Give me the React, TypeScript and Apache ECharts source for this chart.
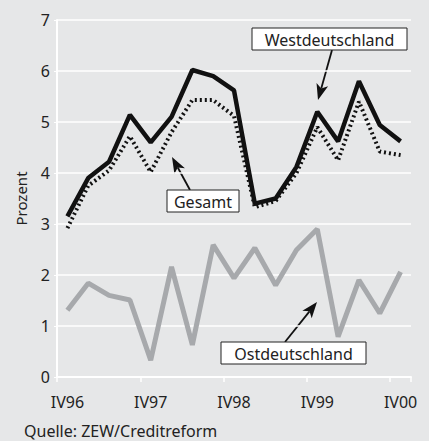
import React, { useEffect, useRef } from "react";
import * as echarts from "echarts";

const categories = ["IV96", "I97", "II97", "III97", "IV97", "I98", "II98", "III98", "IV98", "I99", "II99", "III99", "IV99", "I00", "II00", "III00", "IV00"];
const west = [3.15, 3.9, 4.22, 5.14, 4.6, 5.1, 6.02, 5.9, 5.62, 3.4, 3.5, 4.12, 5.2, 4.62, 5.8, 4.94, 4.62];
const gesamt = [2.92, 3.75, 4.05, 4.72, 4.02, 4.8, 5.43, 5.43, 5.12, 3.33, 3.45, 4.0, 4.9, 4.25, 5.4, 4.42, 4.35];
const ost = [1.31, 1.84, 1.6, 1.51, 0.33, 2.16, 0.63, 2.59, 1.94, 2.53, 1.8, 2.49, 2.9, 0.79, 1.9, 1.25, 2.06];
const yTicks = [0, 1, 2, 3, 4, 5, 6, 7];

const FONT = "'Noto Sans', sans-serif";

function arrow(x1: number, y1: number, x2: number, y2: number) {
  const dx = x2 - x1, dy = y2 - y1;
  const len = Math.sqrt(dx * dx + dy * dy);
  const ux = dx / len, uy = dy / len;
  const hl = 16, hw = 6, sw = 0.9;
  const bx = x2 - ux * hl, by = y2 - uy * hl;
  const ex = bx + ux * 4, ey = by + uy * 4;
  return [
    {
      type: "polygon",
      shape: {
        points: [
          [x1 - uy * sw, y1 + ux * sw],
          [ex - uy * sw, ey + ux * sw],
          [ex + uy * sw, ey - ux * sw],
          [x1 + uy * sw, y1 - ux * sw],
        ],
      },
      style: { fill: "#111", stroke: null },
    },
    {
      type: "polygon",
      shape: { points: [[x2, y2], [bx - uy * hw, by + ux * hw], [ex, ey], [bx + uy * hw, by - ux * hw]] },
      style: { fill: "#111", stroke: null },
    },
  ];
}

function box(x: number, y: number, w: number, h: number, label: string) {
  return [
    { type: "rect", shape: { x, y, width: w, height: h }, style: { fill: "#fff", stroke: "#222", lineWidth: 1 } },
    {
      type: "text",
      x: x + w / 2,
      y: y + h / 2 + 1,
      style: { text: label, font: `16px ${FONT}`, fill: "#222", align: "center", verticalAlign: "middle" },
    },
  ];
}

export default function App() {
  const ref = useRef<HTMLDivElement>(null);
  useEffect(() => {
    if (!ref.current) return;
    const chart = echarts.init(ref.current, undefined, { renderer: "svg" });
    chart.setOption({
      animation: false,
      backgroundColor: "#e6e7e8",
      grid: { left: 57, right: 18, top: 20, bottom: 64 },
      xAxis: {
        type: "category",
        data: categories,
        boundaryGap: true,
        axisLine: { lineStyle: { color: "#fff", width: 2 } },
        axisTick: { show: true, interval: 3, length: 5, lineStyle: { color: "#fff", width: 1.5 } },
        axisLabel: { interval: 3, color: "#222", fontSize: 16, fontFamily: FONT, margin: 17 },
        splitLine: { show: false },
      },
      yAxis: {
        type: "value",
        min: 0,
        max: 7,
        interval: 1,
        name: "Prozent",
        nameLocation: "middle",
        nameGap: 29,
        nameTextStyle: { color: "#222", fontSize: 15, fontFamily: FONT },
        axisLine: { show: true, lineStyle: { color: "#fff", width: 2 } },
        axisTick: { show: true, length: 3, lineStyle: { color: "#fff" } },
        axisLabel: { color: "#222", fontSize: 16, fontFamily: FONT, margin: 7, formatter: (v: number) => (yTicks.includes(v) ? String(v) : "") },
        splitLine: { lineStyle: { color: "#fff", width: 1.5 } },
      },
      series: [
        { name: "Ostdeutschland", type: "line", data: ost, symbol: "none", lineStyle: { color: "#a7a9ac", width: 5 }, z: 2 },
        { name: "Gesamt", type: "line", data: gesamt, symbol: "none", lineStyle: { color: "#111", width: 4, type: [2, 3] }, z: 3 },
        { name: "Westdeutschland", type: "line", data: west, symbol: "none", lineStyle: { color: "#111", width: 4.5 }, z: 4 },
      ],
      graphic: [
        ...arrow(332, 50, 318, 100),
        ...box(252, 28, 155, 22, "Westdeutschland"),
        ...arrow(190, 190, 172, 157),
        ...box(167, 190, 72, 22, "Gesamt"),
        ...arrow(285, 342, 317, 302),
        ...box(221, 342, 145, 22, "Ostdeutschland"),
        {
          type: "text",
          x: 24,
          y: 431,
          style: { text: "Quelle: ZEW/Creditreform", font: `16px ${FONT}`, fill: "#222", verticalAlign: "middle" },
        },
      ],
    });
    return () => chart.dispose();
  }, []);
  return <div ref={ref} style={{ position: "fixed", left: 0, top: 0, width: 429, height: 441 }} />;
}
